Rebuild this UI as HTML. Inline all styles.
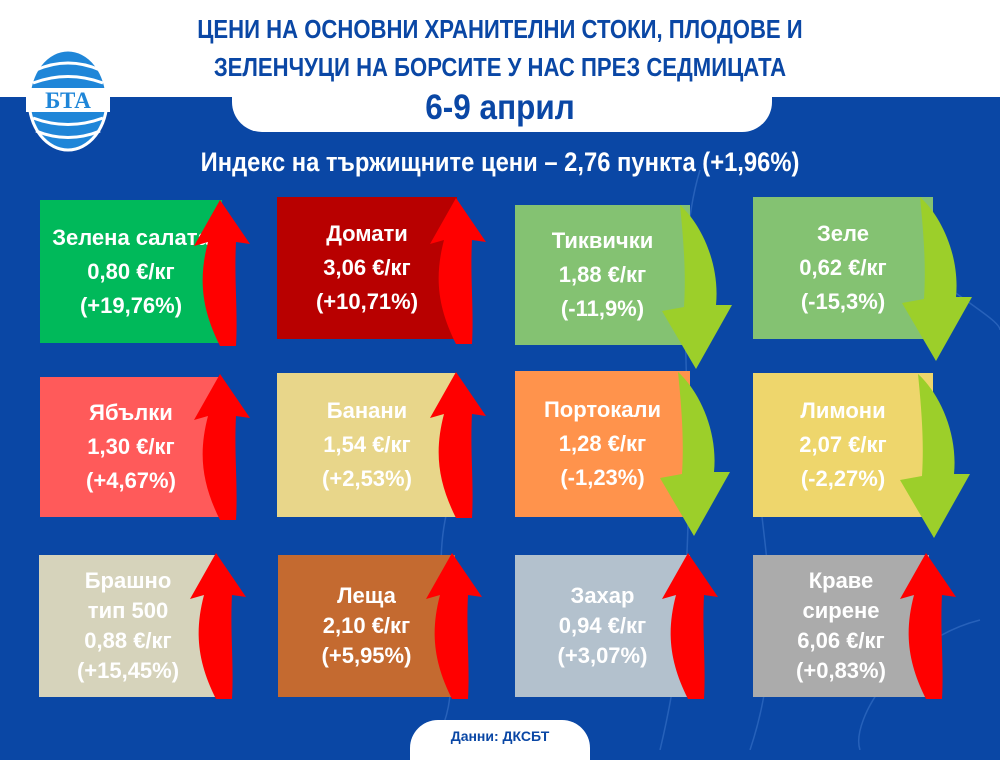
<!DOCTYPE html>
<html><head><meta charset="utf-8"><style>
html,body{margin:0;padding:0}
body{width:1000px;height:750px;overflow:hidden;position:relative;background:#0a47a5;font-family:"Liberation Sans","DejaVu Sans",sans-serif}
.top{position:absolute;left:0;top:0;width:1000px;height:97px;background:#fff}
.tab{position:absolute;left:232px;top:80px;width:540px;height:52px;background:#fff;border-radius:0 0 30px 30px}
.t{position:absolute;left:0;width:1000px;text-align:center;color:#0a47a5;font-weight:bold;white-space:nowrap}
.box{position:absolute;color:#fff;text-align:center;font-size:22px;line-height:34px;display:flex;flex-direction:column;justify-content:center;font-weight:bold;white-space:nowrap}
.foot{position:absolute;left:410px;top:720px;width:180px;height:40px;background:#fff;border-radius:28px 28px 0 0;color:#0a47a5;font-weight:bold;font-size:14px;text-align:center;line-height:32px}
</style></head><body>
<div class="top"></div>
<div class="tab"></div>
<svg style="position:absolute;left:0;top:0" width="1000" height="750">
<g fill="none" stroke="#3a73c8" stroke-width="1.5" opacity="0.6">
<path d="M700 170 C660 300 720 500 660 750"/>
<path d="M760 380 C740 500 800 600 750 750"/>
<path d="M900 250 C960 300 1000 320 1000 330"/>
<path d="M450 500 C420 600 480 680 430 750"/>
<path d="M980 620 C900 640 850 720 860 750"/>
</g>
<ellipse cx="68" cy="100" rx="39" ry="50" fill="#1f86d8" stroke="#fff" stroke-width="3"/>
<path d="M36 70 Q68 56 100 70 M33 83 Q68 70 103 83 M33 118 Q68 131 103 118 M36 131 Q68 144 100 131" stroke="#fff" stroke-width="3" fill="none"/>
<rect x="26" y="88" width="84" height="24" fill="#fff"/>
<text x="68" y="108" text-anchor="middle" font-family="Liberation Serif" font-weight="bold" font-size="23" fill="#1f86d8">БТА</text>
</svg>
<div class="t" style="top:14px;font-size:26px;transform:scaleX(0.85)">ЦЕНИ НА ОСНОВНИ ХРАНИТЕЛНИ СТОКИ, ПЛОДОВЕ И</div>
<div class="t" style="top:52px;font-size:26px;transform:scaleX(0.85)">ЗЕЛЕНЧУЦИ НА БОРСИТЕ У НАС ПРЕЗ СЕДМИЦАТА</div>
<div class="t" style="top:88px;font-size:35px;transform:scaleX(0.9)">6-9 април</div>
<div class="t" style="top:147px;font-size:27px;color:#fff;transform:scaleX(0.88)">Индекс на тържищните цени – 2,76 пункта (+1,96%)</div>

<div class="box" style="left:40px;top:200px;width:182px;height:143px;background:#00b95a">Зелена салата<br>0,80 €/кг<br>(+19,76%)</div>
<div class="box" style="left:277px;top:197px;width:180px;height:142px;background:#b80000">Домати<br>3,06 €/кг<br>(+10,71%)</div>
<div class="box" style="left:515px;top:205px;width:175px;height:140px;background:#84c272">Тиквички<br>1,88 €/кг<br>(-11,9%)</div>
<div class="box" style="left:753px;top:197px;width:180px;height:142px;background:#84c272">Зеле<br>0,62 €/кг<br>(-15,3%)</div>

<div class="box" style="left:40px;top:377px;width:182px;height:140px;background:#ff5a5a">Ябълки<br>1,30 €/кг<br>(+4,67%)</div>
<div class="box" style="left:277px;top:373px;width:180px;height:144px;background:#e8d68a">Банани<br>1,54 €/кг<br>(+2,53%)</div>
<div class="box" style="left:515px;top:371px;width:175px;height:146px;background:#ff934c">Портокали<br>1,28 €/кг<br>(-1,23%)</div>
<div class="box" style="left:753px;top:373px;width:180px;height:144px;background:#eed66c">Лимони<br>2,07 €/кг<br>(-2,27%)</div>

<div class="box" style="left:39px;top:555px;width:178px;height:142px;background:#d6d3bb;line-height:30px">Брашно<br>тип 500<br>0,88 €/кг<br>(+15,45%)</div>
<div class="box" style="left:278px;top:555px;width:177px;height:142px;background:#c46a30;line-height:30px">Леща<br>2,10 €/кг<br>(+5,95%)</div>
<div class="box" style="left:515px;top:555px;width:175px;height:142px;background:#b3c1cd;line-height:30px">Захар<br>0,94 €/кг<br>(+3,07%)</div>
<div class="box" style="left:753px;top:555px;width:176px;height:142px;background:#ababab;line-height:30px">Краве<br>сирене<br>6,06 €/кг<br>(+0,83%)</div>

<svg style="position:absolute;left:0;top:0" width="1000" height="750">
<defs>
<path id="up" d="M-4 0 L26 44 L12 42 C10 80 14 110 12 146 L-4 146 C-22 110 -26 80 -16 42 L-30 46 Z" fill="#ff0000"/>
<path id="dn" d="M-12 0 C10 20 28 60 24 100 L40 100 L4 164 L-30 106 L-8 102 C-6 70 -8 40 -12 0 Z" fill="#9ccf2a"/>
</defs>
<use href="#up" x="224" y="200"/>
<use href="#up" x="460" y="198"/>
<use href="#dn" x="692" y="205"/>
<use href="#dn" x="932" y="197"/>
<use href="#up" x="224" y="374"/>
<use href="#up" x="460" y="372"/>
<use href="#dn" x="690" y="372"/>
<use href="#dn" x="930" y="374"/>
<use href="#up" x="220" y="553"/>
<use href="#up" x="456" y="553"/>
<use href="#up" x="692" y="553"/>
<use href="#up" x="930" y="553"/>
</svg>
<div class="foot">Данни: ДКСБТ</div>
</body></html>
